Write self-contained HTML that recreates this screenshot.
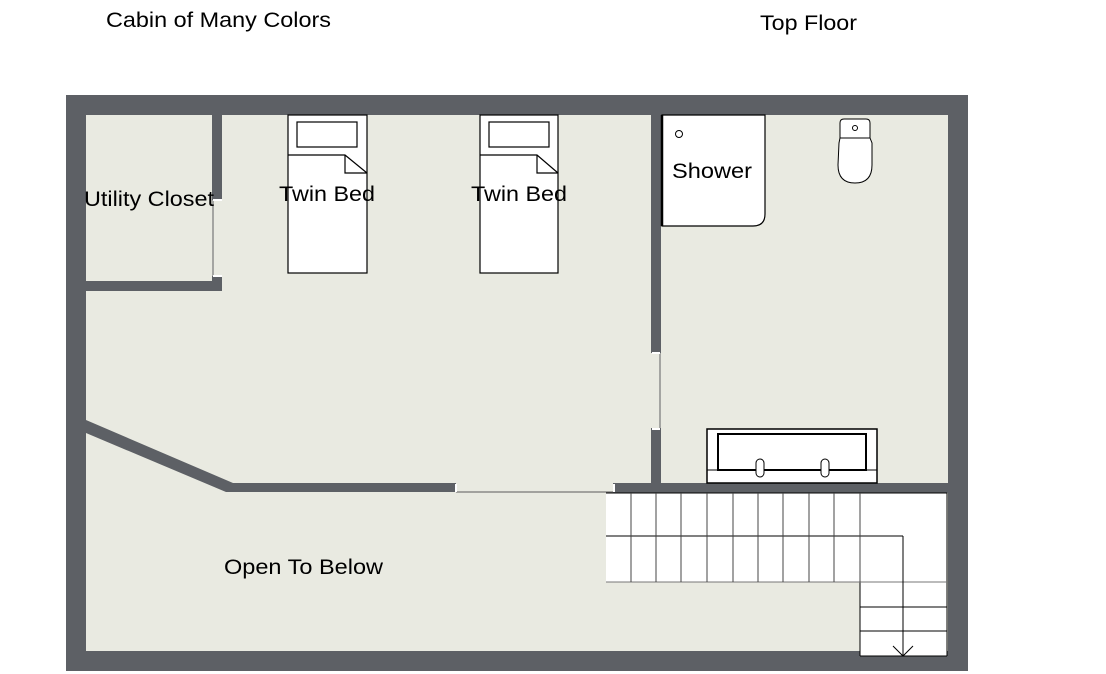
<!DOCTYPE html>
<html><head><meta charset="utf-8"><style>
html,body{margin:0;padding:0;background:#fff}
svg{display:block}
text{font-family:"Liberation Sans",Arial,sans-serif;fill:#000}
</style></head><body>
<svg width="1106" height="674" viewBox="0 0 1106 674" xmlns="http://www.w3.org/2000/svg">
<rect width="1106" height="674" fill="#fff"/>
<text x="106" y="27" font-size="21" textLength="225" lengthAdjust="spacingAndGlyphs">Cabin of Many Colors</text>
<text x="760" y="30" font-size="21" textLength="97" lengthAdjust="spacingAndGlyphs">Top Floor</text>
<rect x="66" y="95" width="902" height="576" fill="#5d6065"/>
<rect x="86" y="115" width="862" height="536" fill="#e9eae1"/>
<g fill="#5d6065">
<rect x="212" y="115" width="10" height="85"/>
<rect x="212" y="276" width="10" height="15"/>
<rect x="86" y="281" width="136" height="10"/>
<rect x="651" y="115" width="10" height="238"/>
<rect x="651" y="428" width="10" height="60"/>
<rect x="613" y="483" width="335" height="10"/>
<rect x="230" y="483" width="226" height="9"/>
<polygon points="86,420 233,483 233,492 226,492 86,433"/>
</g>
<g stroke="#777" stroke-width="1.2" fill="none">
<line x1="213" y1="200" x2="213" y2="276"/>
<line x1="660" y1="353" x2="660" y2="428"/>
<line x1="456" y1="492" x2="613" y2="492"/>
</g>
<g fill="#fff">
<rect x="213" y="199" width="9" height="2"/><rect x="213" y="275" width="9" height="2"/>
<rect x="652" y="352" width="8" height="2"/><rect x="652" y="428" width="8" height="2"/>
<rect x="455" y="484" width="2" height="8"/><rect x="613" y="484" width="2" height="8"/>
</g>
<g fill="#fff" stroke="#000" stroke-width="1.2">
<rect x="288" y="115" width="79" height="158"/>
<rect x="297" y="122" width="60" height="25"/>
<polyline points="288,155 345,155 367,173" fill="none"/>
<polyline points="345,155 345,173 367,173" fill="none"/>
<rect x="480" y="115" width="78" height="158"/>
<rect x="489" y="122" width="60" height="25"/>
<polyline points="480,155 537,155 558,173" fill="none"/>
<polyline points="537,155 537,173 558,173" fill="none"/>
</g>
<text x="84" y="206" font-size="21" textLength="130" lengthAdjust="spacingAndGlyphs">Utility Closet</text>
<text x="279" y="201" font-size="21" textLength="96" lengthAdjust="spacingAndGlyphs">Twin Bed</text>
<text x="471" y="201" font-size="21" textLength="96" lengthAdjust="spacingAndGlyphs">Twin Bed</text>
<path d="M662,115 H765 V214 Q765,226 753,226 H662 Z" fill="#fff" stroke="#000" stroke-width="1.2"/>
<line x1="662" y1="115" x2="662" y2="226" stroke="#000" stroke-width="2.5"/>
<circle cx="679" cy="134" r="3.5" fill="#fff" stroke="#000"/>
<text x="672" y="178" font-size="21" textLength="80" lengthAdjust="spacingAndGlyphs">Shower</text>
<g fill="#fff" stroke="#000" stroke-width="1">
<path d="M840,123 Q840,119 844,119 H866 Q870,119 870,123 V138 H840 Z"/>
<path d="M839,143 L840,138 H870 L872,143 V165 Q872,183 855,183 Q838,183 838,165 Z"/>
<circle cx="855" cy="128" r="2.5"/>
</g>
<g fill="#fff" stroke="#000">
<rect x="707" y="429" width="170" height="54" stroke-width="1.5"/>
<rect x="718" y="434" width="148" height="36" stroke-width="2"/>
<line x1="707" y1="470" x2="877" y2="470"/>
<rect x="756" y="459" width="8" height="18" rx="4"/>
<rect x="821" y="459" width="8" height="18" rx="4"/>
</g>
<g fill="#fff" stroke="#000" stroke-width="1">
<rect x="606" y="493" width="341" height="89" stroke="none"/>
<rect x="860" y="493" width="87" height="163" stroke="none"/>
<line x1="606" y1="493" x2="947" y2="493"/>
<line x1="947" y1="493" x2="947" y2="656"/>
<line x1="860" y1="656" x2="947" y2="656"/>
<line x1="860" y1="582" x2="860" y2="656"/>
<line x1="606" y1="582" x2="947" y2="582" stroke="#777"/>
<line x1="860" y1="607" x2="947" y2="607"/>
<line x1="860" y1="631" x2="947" y2="631"/>
<line x1="606" y1="536" x2="903" y2="536"/>
<line x1="903" y1="536" x2="903" y2="656"/>
<polyline points="893,646 903,656 913,646" fill="none"/>
<g stroke="#444">
<line x1="631" y1="493" x2="631" y2="582"/><line x1="656" y1="493" x2="656" y2="582"/>
<line x1="681" y1="493" x2="681" y2="582"/><line x1="707" y1="493" x2="707" y2="582"/>
<line x1="733" y1="493" x2="733" y2="582"/><line x1="758" y1="493" x2="758" y2="582"/>
<line x1="783" y1="493" x2="783" y2="582"/><line x1="809" y1="493" x2="809" y2="582"/>
<line x1="834" y1="493" x2="834" y2="582"/><line x1="860" y1="493" x2="860" y2="582"/>
</g>
</g>
<text x="224" y="574" font-size="21" textLength="159" lengthAdjust="spacingAndGlyphs">Open To Below</text>
</svg>
</body></html>
